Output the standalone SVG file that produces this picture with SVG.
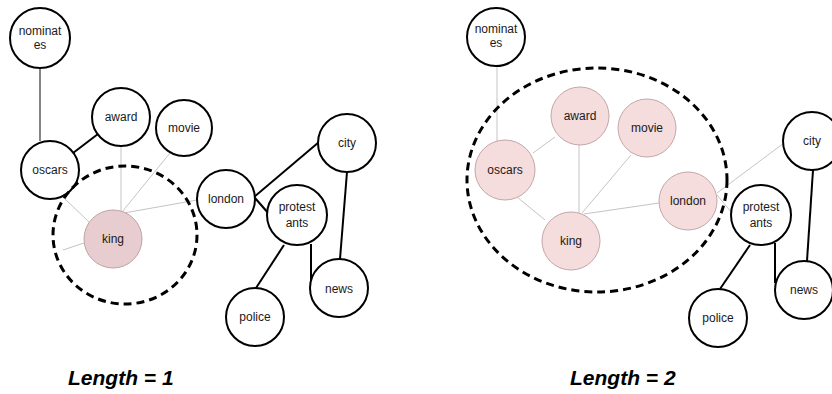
<svg xmlns="http://www.w3.org/2000/svg" width="832" height="394" viewBox="0 0 832 394">
<style>
.n{fill:#fff;stroke:#000;stroke-width:2}
.p{fill:#f5dcdd;stroke:#c4a6a8;stroke-width:1}
.k{fill:#e7cdcf;stroke:#bfa2a4;stroke-width:1}
.t{font-family:"Liberation Sans",Arial,sans-serif;font-size:12px;fill:#1a1a1a;text-anchor:middle}
.b{stroke:#000;stroke-width:2;fill:none}
.th{stroke:#333;stroke-width:1.2;fill:none}
.g{stroke:#c4c4c4;stroke-width:1;fill:none}
.d{fill:none;stroke:#000;stroke-width:3;stroke-dasharray:8 5}
.cap{font-family:"Liberation Sans",Arial,sans-serif;font-size:21px;font-weight:bold;font-style:italic;fill:#000}
</style>
<rect width="832" height="394" fill="#fff"/>
<g id="connectors">
<line class="th" x1="40" y1="68" x2="40" y2="141"/>
<line class="b" x1="73" y1="153" x2="98" y2="134"/>
<line class="g" x1="121" y1="146" x2="121" y2="211"/>
<line class="g" x1="170" y1="153" x2="122" y2="212"/>
<line class="g" x1="197" y1="200" x2="124" y2="213"/>
<line class="g" x1="65" y1="199" x2="89" y2="222"/>
<line class="g" x1="63" y1="250" x2="84" y2="243"/>
<line class="b" x1="254" y1="197" x2="319" y2="142"/>
<line class="b" x1="255" y1="198" x2="269" y2="214"/>
<line class="b" x1="347" y1="172" x2="340" y2="259"/>
<line class="b" x1="284" y1="245" x2="256" y2="288"/>
<line class="b" x1="311" y1="244" x2="311" y2="282"/>
<line class="g" x1="497" y1="66" x2="497" y2="141"/>
<line class="g" x1="533" y1="153" x2="555" y2="137"/>
<line class="g" x1="517" y1="197" x2="545" y2="220"/>
<line class="g" x1="579" y1="145" x2="579" y2="213"/>
<line class="g" x1="631" y1="155" x2="582" y2="213"/>
<line class="g" x1="659" y1="203" x2="584" y2="214"/>
<line class="g" x1="717" y1="193" x2="784" y2="143"/>
<line class="g" x1="717" y1="195" x2="732" y2="213"/>
<line class="b" x1="813" y1="170" x2="807" y2="261"/>
<line class="b" x1="750" y1="245" x2="720" y2="289"/>
<line class="b" x1="775" y1="243" x2="775" y2="283"/>
</g>
<g id="L-nominates"><circle class="n" cx="40" cy="38" r="30"/><text class="t" x="40" y="35">nominat</text><text class="t" x="40" y="49">es</text></g>
<g id="L-award"><circle class="n" cx="121" cy="117" r="29"/><text class="t" x="121" y="121">award</text></g>
<g id="L-movie"><circle class="n" cx="184" cy="128" r="28"/><text class="t" x="184" y="132">movie</text></g>
<g id="L-oscars"><circle class="n" cx="50" cy="170" r="29"/><text class="t" x="50" y="174">oscars</text></g>
<g id="L-king"><circle class="k" cx="113" cy="239" r="29"/><text class="t" x="113" y="243">king</text></g>
<g id="L-london"><circle class="n" cx="226" cy="199" r="29"/><text class="t" x="226" y="203">london</text></g>
<g id="L-city"><circle class="n" cx="347" cy="143" r="29"/><text class="t" x="347" y="147">city</text></g>
<g id="L-protestants"><circle class="n" cx="297" cy="215" r="30"/><text class="t" x="297" y="211">protest</text><text class="t" x="297" y="227">ants</text></g>
<g id="L-news"><circle class="n" cx="339" cy="288" r="29"/><text class="t" x="339" y="293">news</text></g>
<g id="L-police"><circle class="n" cx="255" cy="317" r="29"/><text class="t" x="255" y="321">police</text></g>
<g id="R-nominates"><circle class="n" cx="496" cy="37" r="29"/><text class="t" x="496" y="33">nominat</text><text class="t" x="496" y="47">es</text></g>
<g id="R-award"><circle class="p" cx="580" cy="116" r="29"/><text class="t" x="580" y="120">award</text></g>
<g id="R-movie"><circle class="p" cx="647" cy="128" r="29"/><text class="t" x="647" y="132">movie</text></g>
<g id="R-oscars"><circle class="p" cx="505" cy="170" r="30"/><text class="t" x="505" y="174">oscars</text></g>
<g id="R-king"><circle class="p" cx="571" cy="241" r="29"/><text class="t" x="571" y="245">king</text></g>
<g id="R-london"><circle class="p" cx="688" cy="201" r="29"/><text class="t" x="688" y="205">london</text></g>
<g id="R-city"><circle class="n" cx="812" cy="141" r="29"/><text class="t" x="812" y="145">city</text></g>
<g id="R-protestants"><circle class="n" cx="761" cy="215" r="30"/><text class="t" x="761" y="211">protest</text><text class="t" x="761" y="227">ants</text></g>
<g id="R-news"><circle class="n" cx="804" cy="290" r="29"/><text class="t" x="804" y="294">news</text></g>
<g id="R-police"><circle class="n" cx="718" cy="318" r="29"/><text class="t" x="718" y="322">police</text></g>
<g id="scopes">
<ellipse class="d" cx="125" cy="235" rx="72" ry="69"/>
<ellipse class="d" cx="597" cy="180" rx="130" ry="112"/>
</g>
<g id="captions">
<text class="cap" x="68" y="385">Length = 1</text>
<text class="cap" x="570" y="385">Length = 2</text>
</g>
</svg>
